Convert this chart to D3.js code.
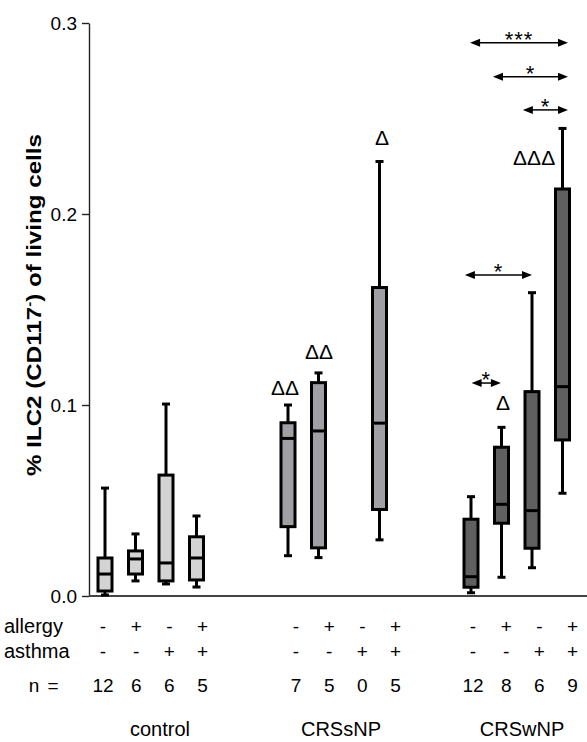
<!DOCTYPE html>
<html>
<head>
<meta charset="utf-8">
<script src="https://cdn.jsdelivr.net/npm/d3@7"></script>
<style>
  html, body { margin: 0; padding: 0; background: #fff; }
  svg { display: block; }
  text { font-family: "Liberation Sans", Arial, sans-serif; fill: #000; }
</style>
</head>
<body>
<svg id="chart" width="587" height="742"></svg>
<script>
// ---- data ----------------------------------------------------------------
const groups = ["control", "CRSsNP", "CRSwNP"];
const allergyRow = ["-", "+", "-", "+"];
const asthmaRow  = ["-", "-", "+", "+"];
const nCounts = [[12, 6, 6, 5], [7, 5, 0, 5], [12, 8, 6, 9]];

// box statistics per group (allergy-/asthma-, allergy+/asthma-, allergy-/asthma+, allergy+/asthma+)
const whiskerLow = [[0.0005, 0.0079, 0.0063, 0.0047], [0.0211, 0.0201, null, 0.0294], [0.0017, 0.0098, 0.0148, 0.0538]];
const quartile1  = [[0.0026, 0.0115, 0.0079, 0.0084], [0.0363, 0.0252, null, 0.0453], [0.0046, 0.0381, 0.0250, 0.0817]];
const medians    = [[0.0115, 0.0194, 0.0173, 0.0199], [0.0825, 0.0864, null, 0.0905], [0.0101, 0.0480, 0.0447, 0.1096]];
const quartile3  = [[0.0199, 0.0236, 0.0633, 0.0310], [0.0907, 0.1117, null, 0.1615], [0.0402, 0.0779, 0.1070, 0.2131]];
const whiskerHigh= [[0.0565, 0.0325, 0.1005, 0.0419], [0.1000, 0.1168, null, 0.2275], [0.0520, 0.0883, 0.1588, 0.2448]];

const groupFill = ["#d3d3d3", "#a0a0a4", "#606060"];

const yTicks = [0.0, 0.1, 0.2, 0.3];

// significance versus control (delta marks): slot position and height
const deltaMarks = [
  { pos: 5.90,  value: 0.1089, text: "ΔΔ" },
  { pos: 7.02,  value: 0.1277, text: "ΔΔ" },
  { pos: 9.08,  value: 0.2398, text: "Δ" },
  { pos: 13.05, value: 0.1010, text: "Δ" },
  { pos: 14.07, value: 0.2293, text: "ΔΔΔ" }
];

// pairwise comparisons within CRSwNP
const sigArrows = [
  { from: 11.97, to: 15.18, value: 0.2897, label: "***" },
  { from: 12.72, to: 15.18, value: 0.2719, label: "*" },
  { from: 13.70, to: 15.18, value: 0.2545, label: "*" },
  { from: 11.80, to: 14.00, value: 0.1681, label: "*" },
  { from: 12.02, to: 12.98, value: 0.1115, label: "*" }
];

// ---- layout --------------------------------------------------------------
const svg = d3.select("#chart");
const axisX = 89;

const y = d3.scaleLinear().domain([0, 0.3]).range([596, 23]);
// slot 0..15: four boxes per group, two empty slots between groups
const slot = d3.scaleLinear().domain([0, 15]).range([105, 562.5]);
// columns of the table under the plot
const tableStart = [103, 296, 473];
const tableStep = 33.2;
const colX = (g, k) => tableStart[g] + k * tableStep;
const groupLabelX = [160, 341, 522];

const boxW = 14, capW = 8;

// ---- axes ----------------------------------------------------------------
const yAxis = d3.axisLeft(y)
  .tickValues(yTicks)
  .tickFormat(d3.format(".1f"))
  .tickSize(7)
  .tickSizeOuter(0)
  .tickPadding(5);

const gy = svg.append("g")
  .attr("transform", `translate(${axisX},0)`)
  .call(yAxis);
gy.select(".domain").attr("stroke", "#222").attr("stroke-width", 1.4);
gy.selectAll(".tick line").attr("stroke", "#222").attr("stroke-width", 1.4);
gy.selectAll(".tick text")
  .attr("font-family", "Liberation Sans, Arial, sans-serif")
  .attr("font-size", 19)
  .attr("fill", "#000");

// baseline
svg.append("line")
  .attr("x1", axisX).attr("x2", 587)
  .attr("y1", y(0)).attr("y2", y(0))
  .attr("stroke", "#444").attr("stroke-width", 2);

// y title
const title = svg.append("text")
  .attr("transform", `translate(41,${305}) rotate(-90)`)
  .attr("text-anchor", "middle")
  .attr("font-size", 21)
  .attr("font-weight", "bold")
  .attr("textLength", 342)
  .attr("lengthAdjust", "spacingAndGlyphs");
title.append("tspan").text("% ILC2 (CD117");
title.append("tspan").attr("baseline-shift", "super").attr("font-size", 13).text("-");
title.append("tspan").text(") of living cells");

// ---- boxes ---------------------------------------------------------------
const boxes = [];
groups.forEach((g, gi) => {
  for (let k = 0; k < 4; k++) {
    if (medians[gi][k] == null) continue;
    boxes.push({
      gi, x: slot(gi * 6 + k),
      lo: whiskerLow[gi][k], q1: quartile1[gi][k], med: medians[gi][k],
      q3: quartile3[gi][k], hi: whiskerHigh[gi][k]
    });
  }
});

const bg = svg.append("g").selectAll("g").data(boxes).join("g");

// whiskers
bg.append("line")
  .attr("x1", d => d.x).attr("x2", d => d.x)
  .attr("y1", d => y(d.hi)).attr("y2", d => y(d.lo))
  .attr("stroke", "#000").attr("stroke-width", 3);
// caps
bg.selectAll("line.cap").data(d => [d.hi, d.lo].map(v => ({ x: d.x, v })))
  .join("line").attr("class", "cap")
  .attr("x1", d => d.x - capW / 2).attr("x2", d => d.x + capW / 2)
  .attr("y1", d => y(d.v)).attr("y2", d => y(d.v))
  .attr("stroke", "#000").attr("stroke-width", 3);
// box
bg.append("rect")
  .attr("x", d => d.x - boxW / 2).attr("width", boxW)
  .attr("y", d => y(d.q3)).attr("height", d => y(d.q1) - y(d.q3))
  .attr("fill", d => groupFill[d.gi])
  .attr("stroke", "#000").attr("stroke-width", 3);
// median
bg.append("line")
  .attr("x1", d => d.x - boxW / 2).attr("x2", d => d.x + boxW / 2)
  .attr("y1", d => y(d.med)).attr("y2", d => y(d.med))
  .attr("stroke", "#000").attr("stroke-width", 3);

// ---- significance marks --------------------------------------------------
svg.append("g").selectAll("text").data(deltaMarks).join("text")
  .attr("x", d => slot(d.pos))
  .attr("y", d => y(d.value) + 6.8)
  .attr("text-anchor", "middle")
  .attr("font-family", "Liberation Serif, Times New Roman, serif")
  .attr("font-size", 21)
  .text(d => d.text);

const ag = svg.append("g").selectAll("g").data(sigArrows).join("g");
const headL = 10, headH = 4;
ag.append("line")
  .attr("x1", d => slot(d.from) + headL - 1).attr("x2", d => slot(d.to) - headL + 1)
  .attr("y1", d => y(d.value)).attr("y2", d => y(d.value))
  .attr("stroke", "#000").attr("stroke-width", 1.5);
ag.append("path")
  .attr("d", d => {
    const yy = y(d.value), a = slot(d.from), b = slot(d.to);
    return `M${a},${yy}L${a + headL},${yy - headH}L${a + headL},${yy + headH}Z` +
           `M${b},${yy}L${b - headL},${yy - headH}L${b - headL},${yy + headH}Z`;
  })
  .attr("fill", "#000");
ag.append("text")
  .attr("x", d => (slot(d.from) + slot(d.to)) / 2)
  .attr("y", d => y(d.value) + 4)
  .attr("text-anchor", "middle")
  .attr("font-size", 22)
  .attr("letter-spacing", 1)
  .text(d => d.label);

// ---- table under the plot ------------------------------------------------
const rowFont = 19;
const table = svg.append("g").attr("font-size", rowFont);
table.append("text").attr("x", 4).attr("y", 633).attr("font-size", 20).text("allergy");
table.append("text").attr("x", 4).attr("y", 658).attr("font-size", 20).text("asthma");
table.append("text").attr("x", 34).attr("y", 692).attr("text-anchor", "middle").text("n");
table.append("text").attr("x", 53).attr("y", 692).attr("text-anchor", "middle").text("=");

const cells = [];
groups.forEach((g, gi) => {
  for (let k = 0; k < 4; k++) {
    cells.push({ x: colX(gi, k), a: allergyRow[k], s: asthmaRow[k], n: nCounts[gi][k] });
  }
});
const cg = table.selectAll("g.col").data(cells).join("g").attr("class", "col");
cg.append("text").attr("x", d => d.x).attr("y", 633).attr("text-anchor", "middle").text(d => d.a);
cg.append("text").attr("x", d => d.x).attr("y", 658).attr("text-anchor", "middle").text(d => d.s);
cg.append("text").attr("x", d => d.x).attr("y", 692).attr("text-anchor", "middle").text(d => d.n);

table.selectAll("text.grp").data(groups).join("text").attr("class", "grp")
  .attr("x", (d, i) => groupLabelX[i]).attr("y", 736)
  .attr("text-anchor", "middle").attr("font-size", 20)
  .text(d => d);
</script>
</body>
</html>
